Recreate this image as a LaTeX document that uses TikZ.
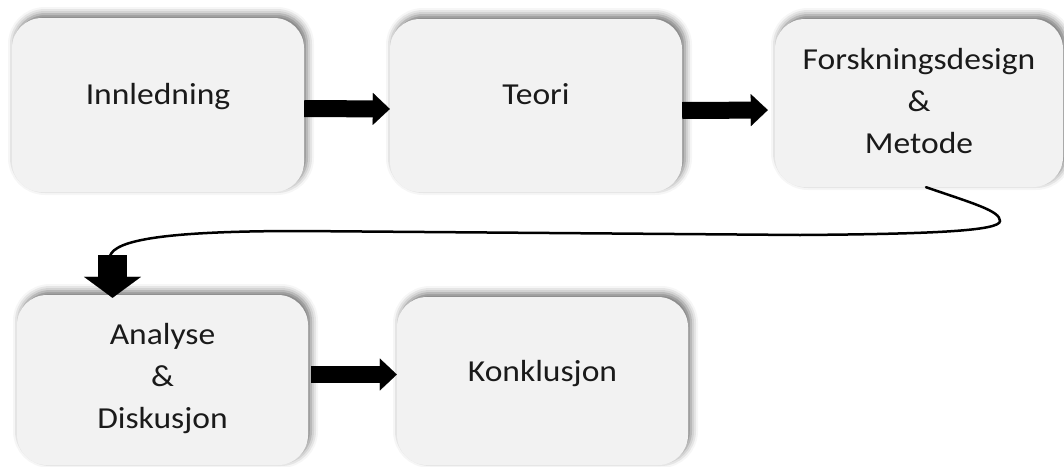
\documentclass[tikz,border=0pt]{standalone}
\usepackage{fontspec}
\setmainfont{Carlito}[FakeStretch=1.1]
\usetikzlibrary{arrows.meta,shadows.blur}
\definecolor{boxfill}{HTML}{F2F2F2}
\definecolor{inktext}{HTML}{1A1A1A}
\begin{document}
\begin{tikzpicture}[x=1pt,y=-1pt,
  stage/.style={rectangle, rounded corners=30pt, fill=boxfill, draw=none, inner sep=0pt,
    blur shadow={shadow xshift=3pt, shadow yshift=4pt, shadow blur radius=7pt, shadow opacity=55}},
  stagetext/.style={font=\fontsize{30.5}{42}\selectfont, align=center, text=inktext, inner sep=0pt},
  flow/.style={line width=17pt, -{Triangle[length=17pt,width=32pt,line width=0.1pt]}},
  drop/.style={line width=29pt, -{Triangle[length=21pt,width=57pt,line width=0.1pt]}},
  link/.style={line width=2.5pt, line cap=round}]
\useasboundingbox (0,0) rectangle (1064,466);

% stage boxes
\node[stage, minimum width=292pt, minimum height=174pt] (b1) at (158,105) {};
\node[stage, minimum width=292pt, minimum height=173pt] (b2) at (536,105.5) {};
\node[stage, minimum width=288pt, minimum height=168pt] (b3) at (919,103) {};
\node[stage, minimum width=291pt, minimum height=170pt] (b4) at (162.5,380) {};
\node[stage, minimum width=291pt, minimum height=168pt] (b5) at (542.5,381) {};

% stage titles
\node[stagetext, anchor=base] (t1) at ([yshift=1pt]b1.center) {Innledning};
\node[stagetext, anchor=base] (t2) at ([yshift=1.5pt]b2.center) {Teori};
\node[stagetext] (t3) at ([yshift=2pt]b3.center) {Forskningsdesign\\\&\\Metode};
\node[stagetext] (t4) at ([yshift=1.5pt]b4.center) {Analyse\\\&\\Diskusjon};
\node[stagetext, anchor=base] (t5) at (b5.center) {Konklusjon};

% block arrows between stages
\draw[flow] ([yshift=-3.5pt]b1.east) -- ([yshift=-3.5pt]b2.west);
\draw[flow, shorten >=7pt] ([yshift=-5pt]b2.east) -- ([yshift=-7pt]b3.west);
\draw[flow] ([yshift=5.5pt,xshift=3pt]b4.east) -- ([yshift=6.5pt]b5.west);

% wrap-around from the first row to the second
\coordinate (c1) at (112.5,255);
\coordinate (c2) at ([yshift=-3pt]b4.north -| c1);
\draw[link] ([xshift=7pt]b3.south) .. controls (975,204) and (1000,211) .. (1000,221)
  .. controls (1000,231) and (930,234) .. (800,235) -- (300,231)
  .. controls (165,231) and (115,240) .. (110,256);
\draw[drop] (c1) -- (c2);
\end{tikzpicture}
\end{document}
